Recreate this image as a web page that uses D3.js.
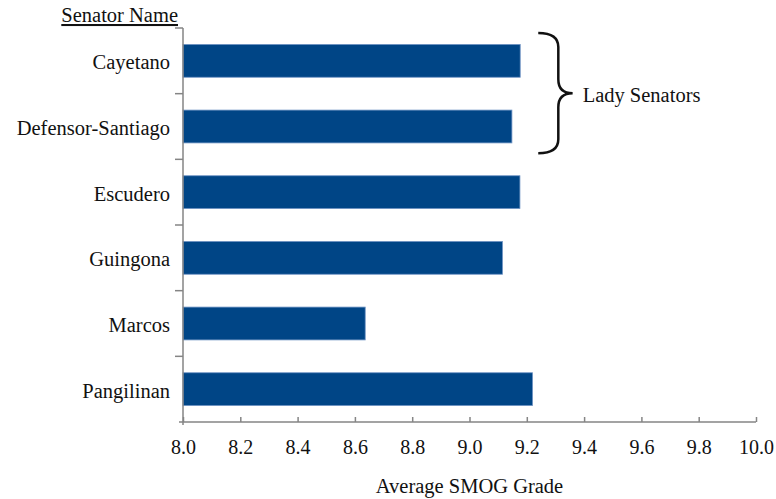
<!DOCTYPE html>
<html>
<head>
<meta charset="utf-8">
<script src="https://cdn.jsdelivr.net/npm/d3@7"></script>
<style>
  html, body { margin: 0; padding: 0; background: #fff; }
  svg { display: block; font-family: "Liberation Serif", "Times New Roman", serif; }
  svg text { font-family: "Liberation Serif", "Times New Roman", serif !important; }
</style>
</head>
<body>
<svg id="chart" width="776" height="499"></svg>
<script>
const senators = ["Cayetano", "Defensor-Santiago", "Escudero", "Guingona", "Marcos", "Pangilinan"]
const smog     = [9.177, 9.148, 9.176, 9.115, 8.636, 9.220]
const xTicks   = [8.0, 8.2, 8.4, 8.6, 8.8, 9.0, 9.2, 9.4, 9.6, 9.8, 10.0]
const ladies   = ["Cayetano", "Defensor-Santiago"]

const svg = d3.select("#chart")
const m = { left: 183, right: 756, top: 28, bottom: 422 }
const axisColor = "#858585"

const x = d3.scaleLinear().domain([8, 10]).range([m.left, m.right])
const y = d3.scaleBand().domain(senators).range([m.top, m.bottom]).paddingInner(0.5).paddingOuter(0.25)

// ── Bars ─────────────────────────────
svg.append("g").selectAll("rect")
  .data(senators.map((s, i) => ({ name: s, v: smog[i] })))
  .join("rect")
    .attr("x", x(8))
    .attr("y", d => y(d.name))
    .attr("width", d => x(d.v) - x(8))
    .attr("height", y.bandwidth())
    .attr("fill", "#004586")
    .attr("stroke", "#6f93c4")
    .attr("stroke-width", 0.8)

// ── X axis (ticks point up) ──────────
const xAxis = svg.append("g")
  .attr("transform", `translate(0,${m.bottom})`)
  .call(d3.axisBottom(x).tickValues(xTicks).tickFormat(d3.format(".1f")).tickSize(-5).tickSizeOuter(0).tickPadding(18))
xAxis.attr("font-family", null).attr("font-size", 20)
xAxis.select(".domain").attr("stroke", axisColor).attr("stroke-width", 1.5).attr("d", `M${m.left - 4},0H${m.right}`)
xAxis.selectAll(".tick line").attr("stroke", axisColor).attr("stroke-width", 1.5)
xAxis.selectAll(".tick text").attr("fill", "#111")

// ── Y axis (ticks on band boundaries) ─
const yAxis = svg.append("g")
yAxis.append("line")
  .attr("x1", m.left).attr("x2", m.left)
  .attr("y1", m.top).attr("y2", m.bottom + 3)
  .attr("stroke", axisColor).attr("stroke-width", 1.5)
const step = y.step()
const bounds = d3.range(senators.length).map(i => m.top + i * step)
yAxis.selectAll("line.tk")
  .data(bounds)
  .join("line").attr("class", "tk")
    .attr("x1", m.left - 8).attr("x2", m.left)
    .attr("y1", d => d).attr("y2", d => d)
    .attr("stroke", axisColor).attr("stroke-width", 1.5)
yAxis.selectAll("text")
  .data(senators)
  .join("text")
    .attr("x", m.left - 13)
    .attr("y", d => y(d) + y.bandwidth() / 2)
    .attr("dy", "0.42em")
    .attr("text-anchor", "end")
    .attr("font-size", 20.5)
    .attr("fill", "#111")
    .text(d => d)

// ── Titles ───────────────────────────
svg.append("text")
  .attr("x", (m.left + m.right) / 2).attr("y", 493)
  .attr("text-anchor", "middle").attr("font-size", 20.5).attr("fill", "#111")
  .text("Average SMOG Grade")

svg.append("text")
  .attr("x", 178).attr("y", 22)
  .attr("text-anchor", "end").attr("font-size", 20.5).attr("fill", "#111")
  .attr("text-decoration", "underline")
  .text("Senator Name")

// ── Brace round the lady senators ─────
const bTop = y(ladies[0]) - y.step() * 0.25 + 5
const bBot = y(ladies[1]) + y.bandwidth() + y.step() * 0.25 - 6
const bMid = (bTop + bBot) / 2
const x0 = x(9.24), x1 = x(9.31), x2 = x(9.36), r = 14
svg.append("path")
  .attr("d", `M${x0},${bTop} Q${x1},${bTop} ${x1},${bTop + r} L${x1},${bMid - r} Q${x1},${bMid} ${x2},${bMid}` +
             ` Q${x1},${bMid} ${x1},${bMid + r} L${x1},${bBot - r} Q${x1},${bBot} ${x0},${bBot}`)
  .attr("fill", "none").attr("stroke", "#111").attr("stroke-width", 2.5)

svg.append("text")
  .attr("x", x2 + 10).attr("y", bMid + 9)
  .attr("font-size", 20.5).attr("fill", "#111")
  .text("Lady Senators")
</script>
</body>
</html>
